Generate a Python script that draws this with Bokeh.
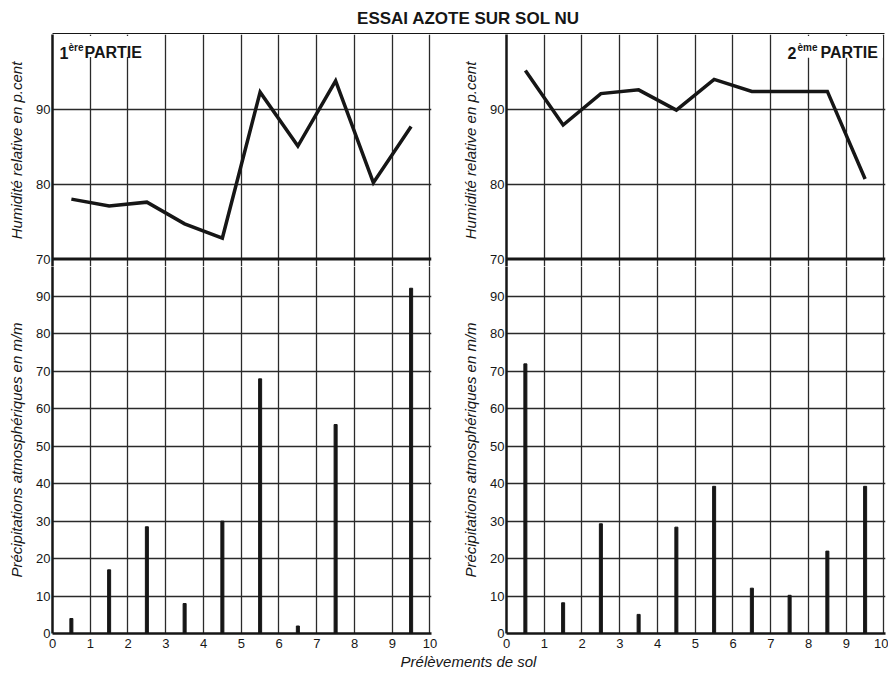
from bokeh.plotting import figure
from bokeh.models import Range1d, FixedTicker, Span, Label, BoxAnnotation
from bokeh.layouts import column, row
from bokeh.embed import file_html
from bokeh.resources import INLINE

# ---------------- data ----------------
samples = [0.5, 1.5, 2.5, 3.5, 4.5, 5.5, 6.5, 7.5, 8.5, 9.5]
humidity_1 = [78.0, 77.1, 77.6, 74.7, 72.8, 92.3, 85.1, 93.8, 80.2, 87.7]
rain_1 = [4.0, 17.0, 28.5, 8.0, 30.0, 68.0, 2.0, 55.8, 0.0, 92.2]
humidity_2 = [95.2, 87.9, 92.1, 92.6, 89.9, 94.0, 92.4, 92.4, 92.4, 80.7]
rain_2 = [72.0, 8.2, 29.3, 5.1, 28.4, 39.3, 12.1, 10.2, 22.0, 39.3]
x_ticks = [0, 1, 2, 3, 4, 5, 6, 7, 8, 9, 10]
rain_ticks = [0, 10, 20, 30, 40, 50, 60, 70, 80, 90]
hum_ticks = [70, 80, 90]

TITLE = "ESSAI AZOTE SUR SOL NU"
XLABEL = "Prélèvements de sol"
HUM_LABEL = "Humidité relative en p.cent"
RAIN_LABEL = "Précipitations atmosphériques en m/m"

# ---------------- layout constants ----------------
HUM_RANGE = (69.0, 100.0)     # a little room under 70 for the "70" label
RAIN_RANGE = (0.0, 98.0)
X_RANGE = (0.0, 10.04)
TOP_H = 232
BOT_FRAME_H = 367
FRAME_W = 379
LB1, RB1 = 52, 8              # left panel borders
LB2, RB2 = 67, 3              # right panel borders
W1 = LB1 + FRAME_W + RB1
W2 = LB2 + FRAME_W + RB2
FULL_W = W1 + W2

INK = "#161616"
GRID = "#2a2a2a"
NARROW = "'Liberation Sans Narrow', 'Liberation Sans', sans-serif"
SANS = "'Liberation Sans', sans-serif"


def style_yaxis(ax, label):
    ax.axis_line_width = 2.5
    ax.axis_line_color = INK
    ax.major_tick_line_color = None
    ax.minor_tick_line_color = None
    ax.major_tick_out = 0
    ax.major_tick_in = 0
    ax.major_label_standoff = 2
    ax.major_label_text_font = NARROW
    ax.major_label_text_font_size = "13px"
    ax.major_label_text_color = INK
    ax.axis_label = label
    ax.axis_label_text_font = SANS
    ax.axis_label_text_font_style = "italic"
    ax.axis_label_text_font_size = "15px"
    ax.axis_label_text_color = INK
    ax.axis_label_standoff = 8


def style_grid(p, xt, yt):
    p.xgrid.ticker = FixedTicker(ticks=xt)
    p.ygrid.ticker = FixedTicker(ticks=yt)
    for g in (p.xgrid[0], p.ygrid[0]):
        g.grid_line_color = GRID
        g.grid_line_width = 1.3
        g.grid_line_alpha = 1.0


def top_panel(hum, lb, rb, w, parts, mask):
    p = figure(width=w, height=TOP_H, x_range=Range1d(*X_RANGE),
               y_range=Range1d(*HUM_RANGE), x_axis_location=None,
               min_border_left=lb, min_border_right=rb,
               min_border_top=0, min_border_bottom=0,
               toolbar_location=None, output_backend="svg",
               background_fill_color="white", border_fill_color="white")
    p.outline_line_color = None
    style_grid(p, x_ticks[1:], hum_ticks[1:])
    ya = p.yaxis[0]
    ya.ticker = FixedTicker(ticks=hum_ticks)
    style_yaxis(ya, HUM_LABEL)

    p.add_layout(Span(location=hum_ticks[0], dimension="width",
                      line_color=INK, line_width=3))
    p.line(samples, hum, line_color=INK, line_width=3.5, line_join="miter")

    p.add_layout(BoxAnnotation(left=mask[0], right=mask[1], bottom=mask[2],
                               top=99.8, fill_color="white", fill_alpha=1.0,
                               line_color=None))
    for txt, xs, dy, size in parts:
        p.add_layout(Label(x=xs, x_units="screen", y=97.55, y_offset=dy,
                           text=txt, text_align="left",
                           text_baseline="alphabetic", text_font=SANS,
                           text_font_style="bold", text_font_size=size,
                           text_color=INK))
    return p


def bottom_panel(rain, lb, rb, w):
    p = figure(width=w, frame_height=BOT_FRAME_H, x_range=Range1d(*X_RANGE),
               y_range=Range1d(*RAIN_RANGE),
               min_border_left=lb, min_border_right=rb,
               min_border_top=0, min_border_bottom=0,
               toolbar_location=None, output_backend="svg",
               background_fill_color="white", border_fill_color="white")
    p.outline_line_color = None
    style_grid(p, x_ticks[1:], rain_ticks[1:])
    ya = p.yaxis[0]
    ya.ticker = FixedTicker(ticks=rain_ticks)
    style_yaxis(ya, RAIN_LABEL)

    xa = p.xaxis[0]
    xa.ticker = FixedTicker(ticks=x_ticks)
    xa.axis_line_width = 2.5
    xa.axis_line_color = INK
    xa.major_tick_line_color = None
    xa.minor_tick_line_color = None
    xa.major_tick_out = 0
    xa.major_tick_in = 0
    xa.major_label_standoff = 5
    xa.major_label_text_font = NARROW
    xa.major_label_text_font_size = "13px"
    xa.major_label_text_color = INK

    p.vbar(x=samples, top=rain, bottom=0, width=0.08, color=INK)
    return p


tl = top_panel(humidity_1, LB1, RB1, W1,
               [("1", 7, 0, "16px"), ("ère", 16, 5, "10px"), ("PARTIE", 32, 0, "16px")],
               (0.1, 2.5, 97.0))
tr = top_panel(humidity_2, LB2, RB2, W2,
               [("2", 281, 0, "16px"), ("ème", 291, 5, "10px"), ("PARTIE", 314, 0, "16px")],
               (7.2, 9.97, 96.9))
bl = bottom_panel(rain_1, LB1, RB1, W1)
br = bottom_panel(rain_2, LB2, RB2, W2)

# title strip (its frame outline continues the top border across both parts)
top = figure(width=FULL_W, frame_height=1, x_range=Range1d(0, 1), y_range=Range1d(0, 1),
             x_axis_location=None, y_axis_location=None, toolbar_location=None,
             output_backend="svg", min_border_left=LB1,
             min_border_right=RB2 + (FRAME_W - 377) - 1,
             min_border_top=5, min_border_bottom=0, title=TITLE,
             background_fill_color="white", border_fill_color="white")
top.grid.visible = False
top.outline_line_color = INK
top.outline_line_width = 1.2
top.title.align = "center"
top.title.text_font = SANS
top.title.text_font_style = "bold"
top.title.text_font_size = "17px"
top.title.text_color = INK
top.title.standoff = 12

# x label strip
bottom = figure(width=FULL_W, frame_height=1, x_range=Range1d(0, 1), y_range=Range1d(0, 1),
                x_axis_location=None, y_axis_location=None, toolbar_location=None,
                output_backend="svg", min_border_left=LB1, min_border_right=RB2,
                min_border_top=0, min_border_bottom=0, title=XLABEL,
                background_fill_color="white", border_fill_color="white")
bottom.grid.visible = False
bottom.outline_line_color = None
bottom.title.align = "center"
bottom.title.text_font = SANS
bottom.title.text_font_style = "italic"
bottom.title.text_font_size = "15px"
bottom.title.text_color = INK
bottom.title.standoff = 0

layout = column(top, row(tl, tr), row(bl, br), bottom)
open("out.html", "w").write(file_html(layout, INLINE))
